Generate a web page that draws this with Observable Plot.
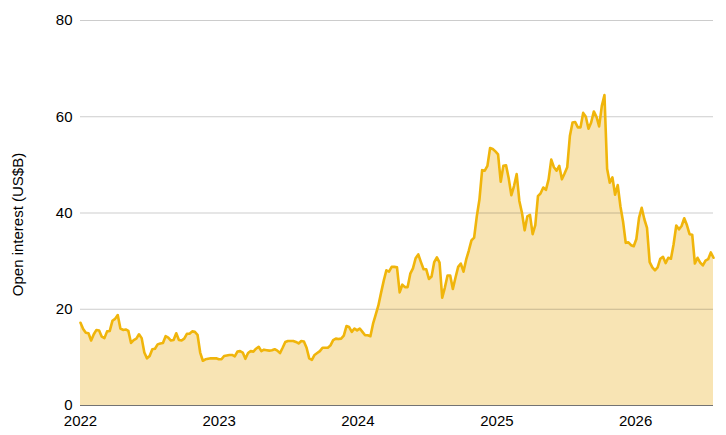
<!DOCTYPE html>
<html>
<head>
<meta charset="utf-8">
<script src="https://cdn.jsdelivr.net/npm/d3@7"></script>
<script src="https://cdn.jsdelivr.net/npm/@observablehq/plot@0.6"></script>
<style>
  html, body { margin: 0; padding: 0; background: #fff; }
  #chart svg { display: block; }
</style>
</head>
<body>
<div id="chart"></div>
<script>
// Weekly observations starting on this date
const startDate = "2022-01-01";
const stepDays = 7;

// Open interest, US$ billions (one value per week)
const openInterest = [
  17.2, 15.9, 15.1, 15.0, 13.5, 14.8, 15.7, 15.6, 14.3, 14.0,
  15.4, 15.5, 17.6, 18.0, 18.8, 16.0, 15.7, 15.8, 15.5, 13.0,
  13.6, 13.9, 14.8, 14.0, 11.0, 9.8, 10.3, 11.7, 11.8, 12.7,
  12.9, 13.0, 14.4, 14.1, 13.5, 13.6, 15.0, 13.6, 13.5, 13.9,
  14.9, 14.9, 15.4, 15.3, 14.7, 11.0, 9.3, 9.6, 9.7, 9.8,
  9.8, 9.8, 9.6, 9.6, 10.3, 10.4, 10.5, 10.5, 10.2, 11.2,
  11.3, 11.0, 9.7, 10.9, 11.3, 11.2, 11.8, 12.2, 11.3, 11.6,
  11.5, 11.4, 11.5, 11.7, 11.4, 10.9, 12.0, 13.2, 13.4, 13.4,
  13.4, 13.2, 12.9, 13.4, 13.3, 12.0, 9.8, 9.5, 10.5, 10.9,
  11.3, 12.0, 12.0, 12.0, 12.5, 13.6, 13.9, 13.8, 13.9, 14.5,
  16.5, 16.3, 15.3, 16.0, 15.6, 16.0, 15.3, 14.6, 14.6, 14.4,
  17.0, 18.9, 20.8, 23.4, 25.9, 28.1, 27.8, 28.8, 28.8, 28.7,
  23.5, 25.1, 24.6, 24.6, 27.4, 28.5, 30.6, 31.4, 29.8, 28.3,
  28.3, 26.3, 26.8, 29.8, 30.8, 29.7, 22.4, 24.5, 27.0, 27.0,
  24.2, 26.6, 28.8, 29.5, 27.8, 30.3, 32.2, 34.3, 34.9, 39.3,
  42.8, 48.9, 48.8, 49.8, 53.5, 53.3, 52.8, 52.2, 46.5, 49.8,
  49.9, 47.2, 43.7, 45.6, 48.1, 42.5, 40.0, 36.4, 39.3, 39.6,
  35.6, 37.5, 43.5, 44.1, 45.3, 44.8, 47.0, 51.1, 49.5, 48.8,
  49.8, 47.0, 48.2, 49.5, 56.0, 58.8, 58.9, 57.8, 57.8, 60.8,
  60.0, 57.5, 58.8, 61.1, 60.0, 58.0, 62.2, 64.5, 49.2, 46.3,
  47.4, 43.8, 45.8, 41.4, 38.2, 33.8, 33.9, 33.3, 33.1, 34.6,
  39.0, 41.1, 38.7, 36.9, 29.8, 28.7, 28.1, 28.7, 30.5, 30.9,
  29.6, 30.7, 30.5, 33.5, 37.4, 36.6, 37.3, 38.9, 37.5, 35.6,
  35.5, 29.5, 30.7, 29.7, 29.1, 30.1, 30.4, 31.8, 30.7
];

const yTicks = [0, 20, 40, 60, 80];
const xTickYears = ["2022-01-01", "2023-01-01", "2024-01-01", "2025-01-01", "2026-01-01"];
const yLabel = "Open interest (US$B)";

const start = new Date(startDate);
const data = openInterest.map((v, i) => ({date: d3.utcDay.offset(start, i * stepDays), value: v}));

const chart = Plot.plot({
  width: 726,
  height: 435,
  marginTop: 20,
  marginBottom: 30,
  marginLeft: 80,
  marginRight: 13,
  style: {fontFamily: "'Liberation Sans', Arial, sans-serif", fontSize: "15px", color: "#000", background: "#fff"},
  x: {type: "utc", domain: d3.extent(data, d => d.date)},
  y: {domain: [0, 80]},
  marks: [
    Plot.areaY(data, {x: "date", y: "value", fill: "#f8e4b4"}),
    Plot.gridY(yTicks.filter(t => t > 0), {stroke: "#000", strokeOpacity: 0.2, strokeWidth: 1}),
    Plot.lineY(data, {x: "date", y: "value", stroke: "#f0b50b", strokeWidth: 2.6, strokeLinejoin: "round"}),
    Plot.ruleY([0], {stroke: "#000", strokeOpacity: 0.55, strokeWidth: 1.2}),
    Plot.axisX({ticks: xTickYears.map(d => new Date(d)), tickFormat: d3.utcFormat("%Y"), tickSize: 0, tickPadding: 10, label: null}),
    Plot.axisY({ticks: yTicks, tickSize: 0, tickPadding: 8, label: null})
  ]
});

document.getElementById("chart").appendChild(chart);

d3.select(chart).append("text")
  .attr("transform", "translate(22.5,224.5) rotate(-90)")
  .attr("text-anchor", "middle")
  .attr("fill", "#000")
  .style("font-family", "'Liberation Sans', Arial, sans-serif")
  .style("font-size", "15px")
  .text(yLabel);
</script>
</body>
</html>
